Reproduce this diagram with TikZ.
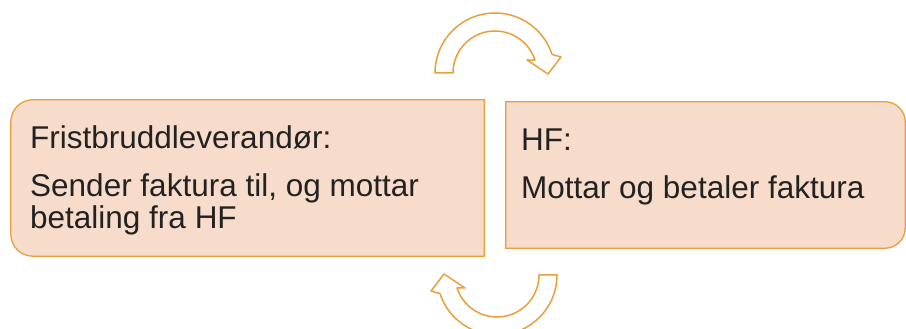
\documentclass[tikz,border=0pt]{standalone}
\usepackage{fontspec}
\setmainfont{Liberation Sans}
\definecolor{boxfill}{HTML}{F8DCCB}
\definecolor{boxline}{HTML}{E9A03B}
\definecolor{txt}{HTML}{222222}
\begin{document}
\begin{tikzpicture}[x=1pt,y=1pt,
  boxshape/.style={fill=boxfill,draw=boxline,line width=1.3pt},
  holder/.style={rectangle,draw=none,inner sep=0pt},
  lbl/.style={anchor=base west,inner sep=0pt,text=txt,font=\fontsize{31.5}{36}\selectfont},
  cyc/.style={fill=white,draw=boxline,line width=1.5pt,line join=round}]
\useasboundingbox (0,0) rectangle (906,329);
% box holders
\node[holder,minimum width=473pt,minimum height=156pt] (L) at (247.5,151) {};
\node[holder,minimum width=399pt,minimum height=146pt] (R) at (705.5,154) {};
% left box, rounded on the left
\draw[boxshape] (L.north east) -- ([xshift=22pt]L.north west)
  arc[start angle=90,end angle=180,radius=22pt]
  -- ([yshift=22pt]L.south west)
  arc[start angle=180,end angle=270,radius=22pt]
  -- (L.south east) -- cycle;
% right box, rounded on the right
\draw[boxshape] (R.north west) -- ([xshift=-20pt]R.north east)
  arc[start angle=90,end angle=0,radius=20pt]
  -- ([yshift=20pt]R.south east)
  arc[start angle=0,end angle=-90,radius=20pt]
  -- (R.south west) -- cycle;
% texts
\node[lbl] (lt) at (30,180) {Fristbruddleverandør:};
\node[lbl] (lb1) at (30,132) {Sender faktura til, og mottar};
\node[lbl] (lb2) at (30,100) {betaling fra HF};
\node[lbl] (rt) at (521,178) {HF:};
\node[lbl] (rb) at (521,130) {Mottar og betaler faktura};
% curved arrows
\begin{scope}[shift={(495,256)}]
\draw[cyc] (-42,0) -- (-60,0) arc[start angle=180,end angle=18,radius=60]
  -- (66,16) -- (53,-1) -- (32,13) -- ({42*cos(18)},{42*sin(18)})
  arc[start angle=18,end angle=180,radius=42] -- cycle;
\end{scope}
\begin{scope}[shift={(497,54)},rotate=180]
\draw[cyc] (-42,0) -- (-60,0) arc[start angle=180,end angle=18,radius=60]
  -- (66,16) -- (53,-1) -- (32,13) -- ({42*cos(18)},{42*sin(18)})
  arc[start angle=18,end angle=180,radius=42] -- cycle;
\end{scope}
\end{tikzpicture}
\end{document}
